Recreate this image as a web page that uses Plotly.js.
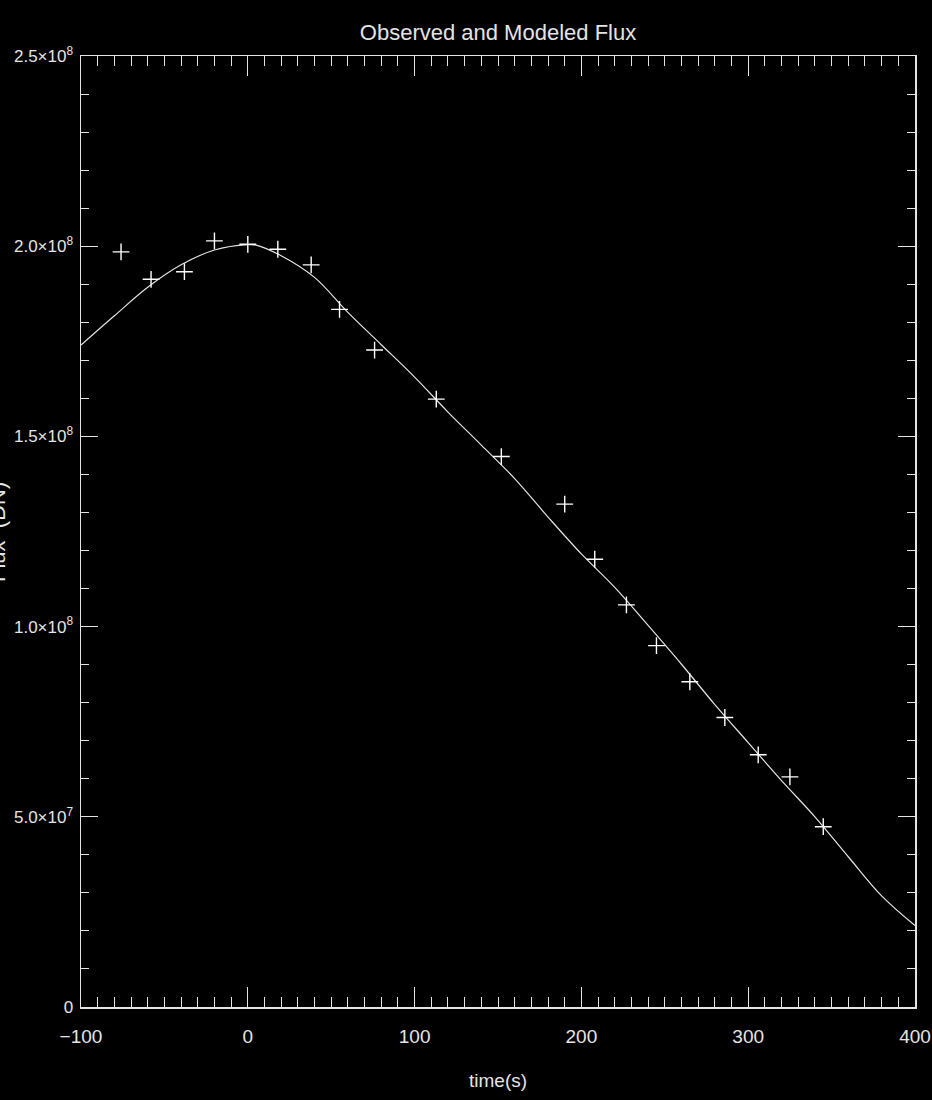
<!DOCTYPE html>
<html>
<head>
<meta charset="utf-8">
<script src="https://cdn.plot.ly/plotly-3.0.1.min.js"></script>
<style>html,body{margin:0;padding:0;background:#000;}#chart{width:932px;height:1100px;}</style>
</head>
<body>
<div id="chart"></div>
<script>
// Observed data points (time in s, flux in DN)
const obsTime = [-76, -58, -38, -20, 0, 18, 38, 55, 76, 113, 152, 190, 208, 227, 245, 265, 286, 306, 325, 345];
const obsFlux = [1.985e8, 1.913e8, 1.933e8, 2.014e8, 2.005e8, 1.992e8, 1.951e8, 1.834e8, 1.727e8, 1.598e8,
                 1.447e8, 1.322e8, 1.177e8, 1.057e8, 0.950e8, 0.855e8, 0.761e8, 0.663e8, 0.605e8, 0.474e8];

// Modeled flux curve
const modTime = [-100, -80, -60, -40, -20, 0, 5, 20, 40, 60, 80, 100, 120, 140, 160, 180, 200, 220, 240, 260, 280, 300, 320, 340, 360, 380, 400];
const modFlux = [1.740e8, 1.817e8, 1.892e8, 1.951e8, 1.990e8, 2.004e8, 2.003e8, 1.975e8, 1.918e8, 1.826e8, 1.741e8,
                 1.656e8, 1.564e8, 1.477e8, 1.389e8, 1.288e8, 1.191e8, 1.103e8, 1.003e8, 0.901e8, 0.795e8, 0.695e8,
                 0.595e8, 0.500e8, 0.395e8, 0.292e8, 0.214e8];

// Tick labels
const xTickVals = [-100, 0, 100, 200, 300, 400];
const xTickText = ["\u2212100", "0", "100", "200", "300", "400"];
const yTickVals = [0, 5e7, 1e8, 1.5e8, 2e8, 2.5e8];
const yTickText = ["0", "5.0\u00d710<sup>7</sup>", "1.0\u00d710<sup>8</sup>", "1.5\u00d710<sup>8</sup>", "2.0\u00d710<sup>8</sup>", "2.5\u00d710<sup>8</sup>"];

const FONT = "'Liberation Sans Narrow', 'Liberation Sans', Arial, sans-serif";
const FG = "#e4e4e4";

const traces = [
  {
    x: modTime, y: modFlux, type: "scatter", mode: "lines",
    line: {color: FG, width: 1.2, shape: "spline", smoothing: 1}, hoverinfo: "skip"
  },
  {
    x: obsTime, y: obsFlux, type: "scatter", mode: "markers",
    marker: {symbol: "cross-thin", size: 12, line: {color: "#ffffff", width: 1.4}, color: "#ffffff"}
  }
];

const layout = {
  width: 932, height: 1100,
  paper_bgcolor: "#000", plot_bgcolor: "#000",
  showlegend: false,
  margin: {l: 81, r: 17, t: 56, b: 93},
  font: {family: FONT, color: FG, size: 18},
  title: {
    text: "Observed and Modeled Flux",
    font: {family: FONT, size: 22, color: FG},
    x: 0.5, xref: "paper", xanchor: "center",
    y: 1 - 32/1100, yref: "container", yanchor: "middle"
  },
  xaxis: {
    range: [-100, 400],
    tickmode: "array", tickvals: xTickVals, ticktext: xTickText,
    ticks: "inside", ticklen: 20, tickwidth: 1, tickcolor: FG,
    showline: true, linecolor: FG, linewidth: 1.5, mirror: "ticks",
    showgrid: false, zeroline: false,
    ticklabeloverflow: "allow", ticklabelstandoff: 12,
    tickfont: {family: FONT, size: 19, color: FG},
    minor: {dtick: 10, tick0: 0, ticks: "inside", ticklen: 10, tickwidth: 1, tickcolor: FG, showgrid: false}
  },
  yaxis: {
    range: [0, 2.5e8],
    tickmode: "array", tickvals: yTickVals, ticktext: yTickText,
    ticks: "inside", ticklen: 17, tickwidth: 1, tickcolor: FG,
    showline: true, linecolor: FG, linewidth: 1.5, mirror: "ticks",
    showgrid: false, zeroline: false,
    ticklabeloverflow: "allow", ticklabelstandoff: 3,
    tickfont: {family: FONT, size: 17, color: FG},
    minor: {dtick: 1e7, tick0: 0, ticks: "inside", ticklen: 8, tickwidth: 1, tickcolor: FG, showgrid: false}
  },
  annotations: [
    {
      text: "time(s)", xref: "paper", yref: "paper",
      x: 0.5, y: -0.0768, xanchor: "center", yanchor: "middle",
      showarrow: false, font: {family: FONT, size: 19, color: FG}
    },
    {
      text: "Flux  (DN)", xref: "paper", yref: "paper",
      x: 0, xshift: -83, y: 0.4995, xanchor: "center", yanchor: "middle",
      textangle: -90, showarrow: false, font: {family: FONT, size: 22, color: FG}
    }
  ]
};

Plotly.newPlot("chart", traces, layout, {displayModeBar: false, staticPlot: true});
</script>
</body>
</html>
